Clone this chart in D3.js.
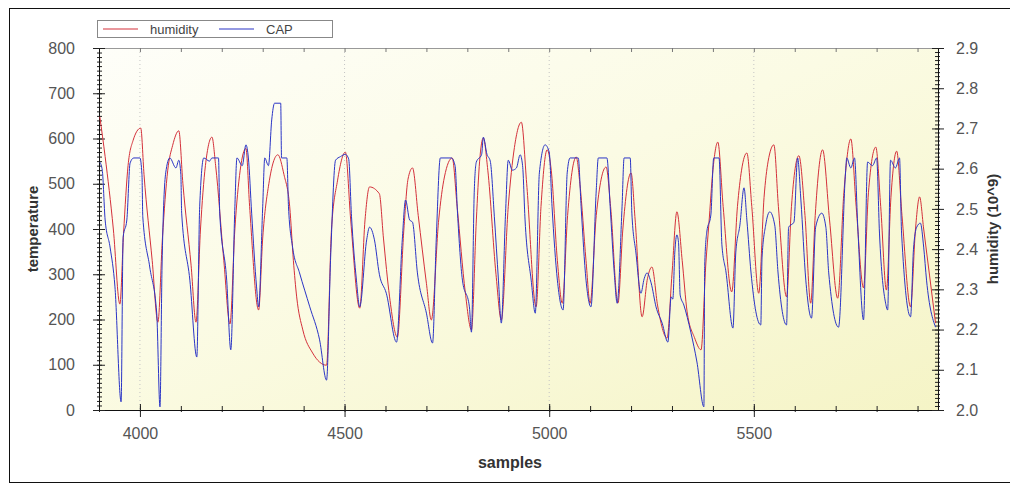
<!DOCTYPE html>
<html>
<head>
<meta charset="utf-8">
<script src="https://cdn.jsdelivr.net/npm/d3@7"></script>
<style>
body { margin: 0; background: #fff; }
svg { display: block; }
text { font-family: "Liberation Sans", Arial, sans-serif; }
</style>
</head>
<body>
<div id="chart"></div>
<script>
// Dados (amostra, valor lido no eixo da esquerda)

let humidity_x = [3902,3915,3935,3951,3960,3971,3983,4002,4010,4030,4044,4055,4068,4080,4095,4105,4125,4137,4148,4160,4176,4185,4205,4220,4232,4245,4259,4268,4290,4300,4315,4337,4352,4366,4375,4383,4398,4422,4456,4468,4483,4502,4515,4537,4550,4561,4585,4595,4610,4629,4645,4655,4666,4680,4700,4712,4730,4744,4763,4775,4795,4810,4822,4830,4839,4850,4870,4883,4900,4915,4932,4945,4968,4980,4995,5005,5020,5032,5045,5066,5075,5090,5100,5115,5139,5150,5168,5180,5200,5210,5227,5240,5251,5265,5288,5300,5312,5325,5337,5355,5371,5383,5390,5400,5412,5425,5446,5460,5470,5483,5495,5512,5525,5535,5549,5560,5580,5592,5610,5625,5639,5650,5668,5685,5705,5720,5737,5750,5768,5780,5798,5810,5824,5835,5849,5862,5883,5895,5905,5915,5944];
let humidity_y = [648,560,400,234,390,540,595,623,520,330,194,380,530,585,617,500,320,194,400,540,603,540,330,190,400,530,578,450,221,380,500,564,520,449,330,250,177,126,99,398,508,570,420,225,420,493,478,380,250,161,400,510,535,430,280,199,420,515,557,450,260,177,420,550,601,530,300,199,450,580,636,500,228,450,575,530,330,236,430,559,500,330,236,430,537,450,236,400,524,420,206,290,316,230,159,300,438,330,217,160,133,327,409,530,592,450,261,450,530,568,450,258,470,550,586,450,250,450,562,430,236,430,575,420,247,480,599,450,270,480,581,450,265,470,572,430,228,400,471,400,192];

let cap_x = [3902,3908,3915,3927,3939,3954,3959,3968,3976,3985,4000,4005,4007,4024,4041,4049,4054,4063,4073,4088,4095,4100,4102,4122,4139,4146,4156,4170,4176,4192,4195,4212,4222,4232,4237,4250,4259,4265,4273,4285,4290,4300,4305,4314,4322,4329,4344,4346,4359,4363,4373,4390,4415,4439,4456,4466,4478,4490,4502,4510,4517,4529,4537,4554,4561,4573,4585,4602,4627,4641,4649,4659,4666,4678,4700,4715,4724,4734,4761,4770,4776,4788,4805,4810,4817,4822,4835,4839,4848,4856,4866,4876,4883,4893,4900,4910,4920,4929,4935,4941,4956,4966,4976,4990,5000,5007,5020,5034,5044,5051,5071,5078,5090,5102,5115,5120,5141,5149,5159,5166,5178,5183,5198,5202,5212,5224,5232,5239,5249,5261,5276,5290,5298,5302,5307,5312,5316,5320,5329,5346,5361,5378,5380,5385,5395,5402,5415,5422,5432,5449,5456,5466,5476,5483,5493,5505,5517,5520,5529,5539,5551,5559,5580,5585,5598,5607,5615,5627,5641,5651,5666,5676,5683,5707,5724,5727,5737,5746,5754,5768,5778,5790,5800,5807,5822,5827,5834,5846,5856,5861,5883,5890,5898,5907,5915,5922,5944];
let cap_y = [548,530,420,360,272,18,382,420,546,557,557,520,427,316,214,7,316,524,557,535,552,520,435,287,117,449,557,550,557,557,435,287,133,449,557,540,586,557,435,272,228,449,557,540,641,678,678,557,557,449,360,303,228,155,66,338,552,560,565,555,427,287,228,376,404,376,300,258,150,376,464,420,415,303,214,148,376,557,557,540,435,287,228,172,486,548,565,603,565,550,427,287,192,427,552,530,535,564,540,420,287,214,524,586,570,449,287,221,524,557,557,449,287,228,486,557,557,449,303,236,449,557,557,435,347,258,290,303,281,228,192,150,250,245,349,387,370,254,232,172,106,7,320,393,431,557,557,365,305,181,349,409,491,420,305,217,188,336,409,438,409,305,188,404,415,557,464,287,203,404,435,404,303,183,524,557,535,557,404,199,548,540,557,391,236,221,552,535,557,391,206,354,404,413,360,287,183];

// Rótulos dos eixos

let x_ticks = [4000, 4500, 5000, 5500];
let y_ticks = [0, 100, 200, 300, 400, 500, 600, 700, 800];
let y2_ticks = [2.0, 2.1, 2.2, 2.3, 2.4, 2.5, 2.6, 2.7, 2.8, 2.9];

// Canvas

let chart_width = 1010;
let chart_height = 484;
let plot = {left: 99, top: 48, right: 938, bottom: 410};

let svg = d3.select('#chart')
    .append('svg')
    .attr('width', chart_width)
    .attr('height', chart_height);

// Escalas

let scale_x = d3.scaleLinear().domain([3900, 5950]).range([plot.left, plot.right]);
let scale_y = d3.scaleLinear().domain([0, 800]).range([plot.bottom, plot.top]);
let scale_y2 = d3.scaleLinear().domain([2.0, 2.9]).range([plot.bottom, plot.top]);

// Moldura externa

svg.append('rect')
    .attr('x', 9.5).attr('y', 8.5)
    .attr('width', chart_width).attr('height', 474)
    .attr('fill', '#fff')
    .attr('stroke', '#111');

// Fundo do gráfico com gradiente

let grad = svg.append('defs').append('linearGradient')
    .attr('id', 'bg')
    .attr('x1', '0%').attr('y1', '0%')
    .attr('x2', '100%').attr('y2', '100%');
grad.append('stop').attr('offset', '0%').attr('stop-color', '#fefef9');
grad.append('stop').attr('offset', '45%').attr('stop-color', '#fbfbe4');
grad.append('stop').attr('offset', '100%').attr('stop-color', '#f5f4c6');

svg.append('rect')
    .attr('x', plot.left).attr('y', plot.top)
    .attr('width', plot.right - plot.left)
    .attr('height', plot.bottom - plot.top)
    .attr('fill', 'url(#bg)');

// Grade vertical pontilhada

svg.selectAll('.grid')
    .data(x_ticks)
    .enter()
    .append('line')
    .attr('class', 'grid')
    .attr('x1', d => scale_x(d)).attr('x2', d => scale_x(d))
    .attr('y1', plot.top).attr('y2', plot.bottom)
    .attr('stroke', '#c4c4c4')
    .attr('stroke-dasharray', '1,3');

// Eixos

let cross = (g, a, b, attr) => {
    g.selectAll('line').attr(attr + '1', a).attr(attr + '2', b);
};

let style_axis = g => {
    g.select('.domain').attr('stroke', '#111');
    g.selectAll('line').attr('stroke', '#222');
    g.selectAll('text').attr('fill', '#555').attr('font-size', 16);
};

// eixo x (menores e maiores)
svg.append('g')
    .attr('transform', `translate(0,${plot.bottom})`)
    .call(d3.axisBottom(scale_x).tickValues(d3.range(3900, 5950, 100)).tickFormat('').tickSizeOuter(0))
    .call(g => cross(g, -4, 2, 'y'))
    .call(style_axis);

svg.append('g')
    .attr('transform', `translate(0,${plot.bottom})`)
    .call(d3.axisBottom(scale_x).tickValues(x_ticks).tickFormat(d3.format('d')).tickSizeOuter(0).tickPadding(12))
    .call(g => cross(g, -6, 7, 'y'))
    .call(style_axis);

// ticks superiores
svg.append('g')
    .attr('transform', `translate(0,${plot.top})`)
    .call(d3.axisTop(scale_x).tickValues(d3.range(3900, 5950, 100)).tickFormat('').tickSizeOuter(0))
    .call(g => cross(g, 0, 4, 'y'))
    .call(g => g.select('.domain').attr('stroke', '#999'))
    .call(g => g.selectAll('line').attr('stroke', '#777'));

// eixo y esquerdo
svg.append('g')
    .attr('transform', `translate(${plot.left},0)`)
    .call(d3.axisLeft(scale_y).tickValues(d3.range(0, 801, 10)).tickFormat('').tickSizeOuter(0))
    .call(g => cross(g, -2, 3, 'x'))
    .call(style_axis);

svg.append('g')
    .attr('transform', `translate(${plot.left},0)`)
    .call(d3.axisLeft(scale_y).tickValues(y_ticks).tickFormat(d3.format('d')).tickSizeOuter(0).tickPadding(18))
    .call(g => cross(g, -6, 6, 'x'))
    .call(style_axis);

// eixo y direito
svg.append('g')
    .attr('transform', `translate(${plot.right},0)`)
    .call(d3.axisRight(scale_y2).tickValues(d3.range(200, 291, 1).map(d => d / 100)).tickFormat('').tickSizeOuter(0))
    .call(g => cross(g, -3, 2, 'x'))
    .call(style_axis);

svg.append('g')
    .attr('transform', `translate(${plot.right},0)`)
    .call(d3.axisRight(scale_y2).tickValues(y2_ticks).tickFormat(d3.format('.1f')).tickSizeOuter(0).tickPadding(12))
    .call(g => cross(g, -6, 6, 'x'))
    .call(style_axis);

// Títulos dos eixos

svg.append('text')
    .text('temperature')
    .attr('transform', `translate(38,${(plot.top + plot.bottom) / 2}) rotate(-90)`)
    .attr('text-anchor', 'middle')
    .attr('font-size', 15)
    .attr('font-weight', 'bold')
    .attr('fill', '#333');

svg.append('text')
    .text('humidity (10^9)')
    .attr('transform', `translate(998,${(plot.top + plot.bottom) / 2}) rotate(-90)`)
    .attr('text-anchor', 'middle')
    .attr('font-size', 15)
    .attr('font-weight', 'bold')
    .attr('fill', '#333');

svg.append('text')
    .text('samples')
    .attr('x', 510).attr('y', 468)
    .attr('text-anchor', 'middle')
    .attr('font-size', 16)
    .attr('font-weight', 'bold')
    .attr('fill', '#333');

// Linhas

let series = [
    {name: 'humidity', xs: humidity_x, ys: humidity_y, color: '#d4303a'},
    {name: 'CAP', xs: cap_x, ys: cap_y, color: '#2a34c6'}
];

let line = d3.line()
    .x(d => scale_x(d[0]))
    .y(d => scale_y(d[1]))
    .curve(d3.curveMonotoneX);

svg.selectAll('.serie')
    .data(series)
    .enter()
    .append('path')
    .attr('class', 'serie')
    .attr('d', s => line(d3.zip(s.xs, s.ys)))
    .attr('fill', 'none')
    .attr('stroke', s => s.color)
    .attr('stroke-width', 1);

// Legenda

let legend = svg.append('g');
legend.append('rect')
    .attr('x', 97.5).attr('y', 20.5)
    .attr('width', 235).attr('height', 17)
    .attr('fill', '#fff')
    .attr('stroke', '#888');

let items = legend.selectAll('.item')
    .data(series)
    .enter()
    .append('g')
    .attr('transform', (d, i) => `translate(${103 + i * 116},29)`);

items.append('line')
    .attr('x1', 0).attr('x2', 35)
    .attr('stroke', d => d.color)
    .attr('stroke-width', 1.2);

items.append('text')
    .text(d => d.name)
    .attr('x', 47).attr('y', 4.5)
    .attr('font-size', 13)
    .attr('fill', '#444');
</script>
</body>
</html>
